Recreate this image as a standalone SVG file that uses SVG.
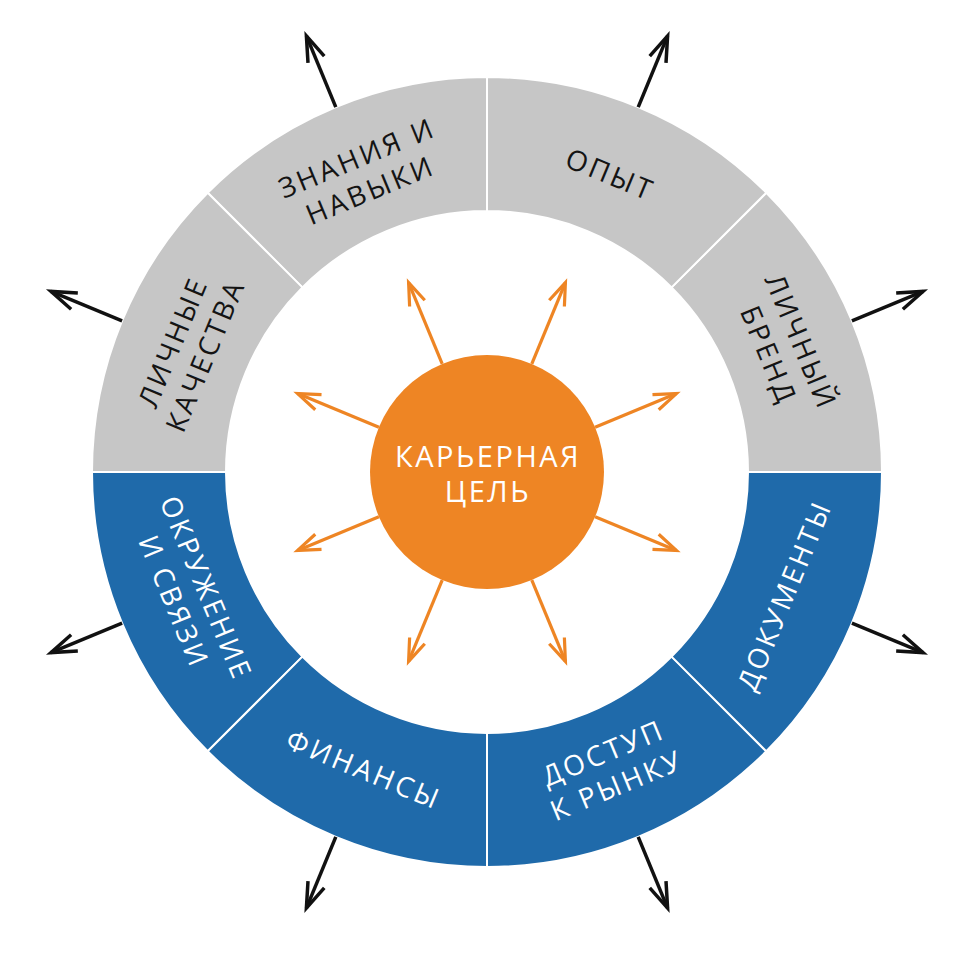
<svg xmlns="http://www.w3.org/2000/svg" width="960" height="960" viewBox="0 0 960 960">
<style>
.seg-g{fill:#C6C6C6;stroke:#FFFFFF;stroke-width:2}
.seg-b{fill:#1F6AAA;stroke:#FFFFFF;stroke-width:2}
.lbl{font-family:"Open Sans","Noto Sans","Liberation Sans",sans-serif;font-size:28px;letter-spacing:3px;text-anchor:middle}
.dark{fill:#141414}
.light{fill:#FFFFFF}
.ext{stroke:#111111;stroke-width:3.5;fill:none}
.int{stroke:#EE8524;stroke-width:3.2;fill:none}
</style>
<defs>
<marker id="headBlack" markerUnits="userSpaceOnUse" markerWidth="60" markerHeight="60" viewBox="-30 -30 60 60" refX="0" refY="0" orient="auto" overflow="visible">
<path d="M-25.5,-8.8 L0,0 L-25.5,8.8" fill="none" stroke="#111111" stroke-width="3.5" stroke-linejoin="miter"/>
</marker>
<marker id="headOrange" markerUnits="userSpaceOnUse" markerWidth="60" markerHeight="60" viewBox="-30 -30 60 60" refX="0" refY="0" orient="auto" overflow="visible">
<path d="M-22.5,-8.2 L0,0 L-22.5,8.2" fill="none" stroke="#EE8524" stroke-width="3.2" stroke-linejoin="miter"/>
</marker>
</defs>
<rect width="960" height="960" fill="#FFFFFF"/>

<g id="seg-brand">
<path class="seg-g" d="M882,472 A395,395 0 0 0 766.3,192.7 L671.6,287.4 A261,261 0 0 1 748,472 Z"/>
<text class="lbl dark" transform="translate(784.5,348.8) rotate(67.5)"><tspan x="0" y="-8">ЛИЧНЫЙ</tspan><tspan x="0" y="27">БРЕНД</tspan></text>
</g>
<g id="seg-experience">
<path class="seg-g" d="M766.3,192.7 A395,395 0 0 0 487,77 L487,211 A261,261 0 0 1 671.6,287.4 Z"/>
<text class="lbl dark" transform="translate(610.2,174.5) rotate(22.5)"><tspan x="0" y="10">ОПЫТ</tspan></text>
</g>
<g id="seg-knowledge">
<path class="seg-g" d="M487,77 A395,395 0 0 0 207.7,192.7 L302.4,287.4 A261,261 0 0 1 487,211 Z"/>
<text class="lbl dark" transform="translate(363.8,174.5) rotate(-22.5)"><tspan x="0" y="-8">ЗНАНИЯ И</tspan><tspan x="0" y="27">НАВЫКИ</tspan></text>
</g>
<g id="seg-qualities">
<path class="seg-g" d="M207.7,192.7 A395,395 0 0 0 92,472 L226,472 A261,261 0 0 1 302.4,287.4 Z"/>
<text class="lbl dark" transform="translate(189.5,348.8) rotate(-67.5)"><tspan x="0" y="-8">ЛИЧНЫЕ</tspan><tspan x="0" y="27">КАЧЕСТВА</tspan></text>
</g>
<g id="seg-network">
<path class="seg-b" d="M92,472 A395,395 0 0 0 207.7,751.3 L302.4,656.6 A261,261 0 0 1 226,472 Z"/>
<text class="lbl light" transform="translate(189.5,595.2) rotate(67.5)"><tspan x="0" y="-8">ОКРУЖЕНИЕ</tspan><tspan x="0" y="27">И СВЯЗИ</tspan></text>
</g>
<g id="seg-finance">
<path class="seg-b" d="M207.7,751.3 A395,395 0 0 0 487,867 L487,733 A261,261 0 0 1 302.4,656.6 Z"/>
<text class="lbl light" transform="translate(363.8,769.5) rotate(22.5)"><tspan x="0" y="10">ФИНАНСЫ</tspan></text>
</g>
<g id="seg-market">
<path class="seg-b" d="M487,867 A395,395 0 0 0 766.3,751.3 L671.6,656.6 A261,261 0 0 1 487,733 Z"/>
<text class="lbl light" transform="translate(610.2,769.5) rotate(-22.5)"><tspan x="0" y="-8">ДОСТУП</tspan><tspan x="0" y="27">К РЫНКУ</tspan></text>
</g>
<g id="seg-documents">
<path class="seg-b" d="M766.3,751.3 A395,395 0 0 0 882,472 L748,472 A261,261 0 0 1 671.6,656.6 Z"/>
<text class="lbl light" transform="translate(784.5,595.2) rotate(-67.5)"><tspan x="0" y="10">ДОКУМЕНТЫ</tspan></text>
</g>

<g id="center-goal">
<circle cx="487" cy="472" r="117" fill="#EE8524"/>
<text class="lbl light" style="font-size:29px;letter-spacing:2.5px"><tspan x="488" y="467">КАРЬЕРНАЯ</tspan><tspan x="488" y="502">ЦЕЛЬ</tspan></text>
</g>

<g id="connectors">
<g class="ext" marker-end="url(#headBlack)">
<line x1="851.9" y1="320.8" x2="923.1" y2="291.4"/>
<line x1="638.2" y1="107.1" x2="667.6" y2="35.9"/>
<line x1="335.8" y1="107.1" x2="306.4" y2="35.9"/>
<line x1="122.1" y1="320.8" x2="50.9" y2="291.4"/>
<line x1="122.1" y1="623.2" x2="50.9" y2="652.6"/>
<line x1="335.8" y1="836.9" x2="306.4" y2="908.1"/>
<line x1="638.2" y1="836.9" x2="667.6" y2="908.1"/>
<line x1="851.9" y1="623.2" x2="923.1" y2="652.6"/>
</g>
<g class="int" marker-end="url(#headOrange)">
<line x1="595.1" y1="427.2" x2="676.4" y2="393.6"/>
<line x1="531.8" y1="363.9" x2="565.4" y2="282.6"/>
<line x1="442.2" y1="363.9" x2="408.6" y2="282.6"/>
<line x1="378.9" y1="427.2" x2="297.6" y2="393.6"/>
<line x1="378.9" y1="516.8" x2="297.6" y2="550.4"/>
<line x1="442.2" y1="580.1" x2="408.6" y2="661.4"/>
<line x1="531.8" y1="580.1" x2="565.4" y2="661.4"/>
<line x1="595.1" y1="516.8" x2="676.4" y2="550.4"/>
</g>
</g>
</svg>
